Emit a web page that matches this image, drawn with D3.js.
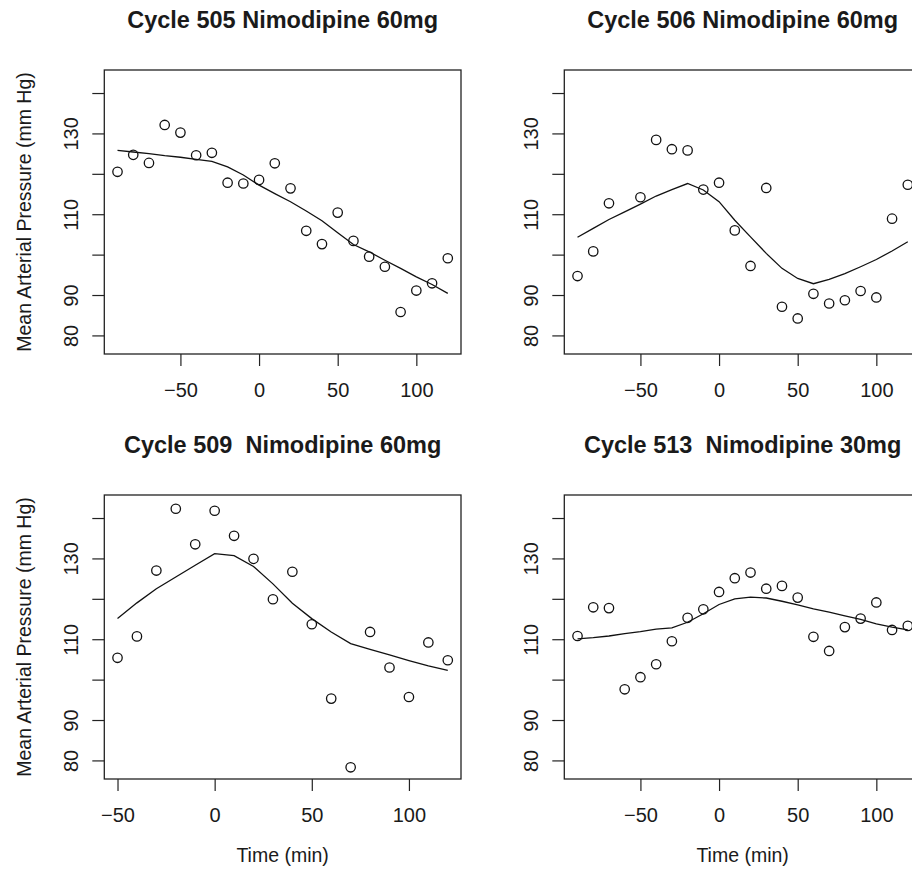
<!DOCTYPE html>
<html>
<head>
<meta charset="utf-8">
<script src="https://cdnjs.cloudflare.com/ajax/libs/d3/7.8.5/d3.min.js"></script>
<style>
  body { margin: 0; background: #fff; }
  text { font-family: "Liberation Sans", Arial, Helvetica, sans-serif; fill: #1a1a1a; }
</style>
</head>
<body>
<div id="chart"></div>
<script>
// overall size of the picture
var width = 912;
var height = 875;

// time points (min)
var timeFull = [-90, -80, -70, -60, -50, -40, -30, -20, -10, 0, 10, 20, 30, 40, 50, 60, 70, 80, 90, 100, 110, 120];
var time506 = [-90, -80, -70, -50, -40, -30, -20, -10, 0, 10, 20, 30, 40, 50, 60, 70, 80, 90, 100, 110, 120];
var time509 = [-50, -40, -30, -20, -10, 0, 10, 20, 30, 40, 50, 60, 70, 80, 90, 100, 110, 120];

// observed mean arterial pressure (circles)
var map505 = [120.5, 124.7, 122.7, 132.1, 130.2, 124.6, 125.2, 117.8, 117.6, 118.5, 122.6, 116.4, 105.9, 102.6, 110.4, 103.4, 99.5, 97.0, 85.8, 91.1, 92.9, 99.1];
var map506 = [94.7, 100.8, 112.7, 114.2, 128.4, 126.1, 125.8, 116.1, 117.8, 106.0, 97.2, 116.5, 87.1, 84.2, 90.3, 87.9, 88.7, 91.0, 89.4, 108.9, 117.3];
var map509 = [105.4, 110.7, 127.0, 142.3, 133.5, 141.8, 135.6, 129.9, 119.9, 126.7, 113.7, 95.3, 78.3, 111.8, 103.0, 95.7, 109.2, 104.8];
var map513 = [110.8, 117.9, 117.7, 97.6, 100.6, 103.8, 109.5, 115.3, 117.4, 121.7, 125.1, 126.5, 122.5, 123.2, 120.3, 110.6, 107.1, 113.0, 115.1, 119.1, 112.3, 113.3];

// fitted curves (lines)
var fit505 = [125.8, 125.4, 125.0, 124.5, 124.1, 123.6, 123.1, 121.7, 119.7, 117.2, 115.1, 113.1, 110.8, 108.4, 105.4, 102.5, 100.7, 98.6, 96.6, 94.5, 92.6, 90.4];
var fit506 = [104.3, 106.5, 108.7, 110.6, 112.5, 114.5, 116.1, 117.6, 116.0, 113.1, 108.5, 104.4, 100.3, 96.6, 94.1, 92.8, 93.9, 95.3, 97.0, 98.8, 100.9, 103.2];
var fit509 = [115.1, 119.0, 122.5, 125.4, 128.3, 131.2, 130.7, 128.0, 123.7, 118.9, 115.1, 111.8, 108.9, 107.5, 106.1, 104.7, 103.4, 102.3];
var fit513 = [110.1, 110.4, 110.8, 111.4, 111.9, 112.5, 112.8, 114.2, 116.3, 118.6, 120.0, 120.4, 120.2, 119.4, 118.5, 117.5, 116.7, 115.8, 114.9, 113.8, 113.0, 112.3];

// panel titles
var titles = ["Cycle 505 Nimodipine 60mg", "Cycle 506 Nimodipine 60mg", "Cycle 509  Nimodipine 60mg", "Cycle 513  Nimodipine 30mg"];

// axis ticks
var xTicks = [-50, 0, 50, 100];
var yTicks = [80, 90, 100, 110, 120, 130, 140];
var yTickLabels = [80, 90, 110, 130];

// panel geometry
var panelLeft = [104.3, 564.3];
var panelTop = [70, 495];
var panelW = 356.7;
var panelH = 284;

var panels = [
    {title: titles[0], t: timeFull, y: map505, ft: timeFull, fy: fit505, xd: [-98.4, 128.4], col: 0, row: 0},
    {title: titles[1], t: time506, y: map506, ft: timeFull, fy: fit506, xd: [-98.4, 128.4], col: 1, row: 0},
    {title: titles[2], t: time509, y: map509, ft: time509, fy: fit509, xd: [-56.8, 126.8], col: 0, row: 1},
    {title: titles[3], t: timeFull, y: map513, ft: timeFull, fy: fit513, xd: [-98.4, 128.4], col: 1, row: 1}
];

var svg = d3.select("#chart").append("svg")
    .attr("width", width)
    .attr("height", height);

panels.forEach(function(p) {
    var left = panelLeft[p.col];
    var top = panelTop[p.row];

    var x = d3.scaleLinear().domain(p.xd).range([0, panelW]);
    var y = d3.scaleLinear().domain([75.4, 145.7]).range([panelH, 0]);

    var g = svg.append("g")
        .attr("transform", "translate(" + left + "," + top + ")");

    // title
    g.append("text")
        .attr("x", panelW / 2)
        .attr("y", 28 - 70)
        .attr("text-anchor", "middle")
        .attr("xml:space", "preserve")
        .style("white-space", "pre")
        .style("font-size", "23.5px")
        .style("font-weight", "bold")
        .text(p.title);

    // x axis
    var xAxis = g.append("g")
        .attr("transform", "translate(0," + panelH + ")")
        .call(d3.axisBottom(x).tickValues(xTicks).tickSize(12).tickSizeOuter(0).tickPadding(17));
    xAxis.select(".domain").remove();
    xAxis.selectAll(".tick line").attr("stroke", "#222").attr("stroke-width", 1.2);
    xAxis.selectAll(".tick text")
        .style("font-size", "20px")
        .attr("fill", "#1a1a1a");

    // y axis, labels turned like base R graphics
    var yAxis = g.append("g")
        .call(d3.axisLeft(y).tickValues(yTicks).tickSize(12).tickSizeOuter(0)
            .tickFormat(function(d) { return yTickLabels.indexOf(d) >= 0 ? d : ""; }));
    yAxis.select(".domain").remove();
    yAxis.selectAll(".tick line").attr("stroke", "#222").attr("stroke-width", 1.2);
    yAxis.selectAll(".tick text")
        .attr("transform", "rotate(-90)")
        .attr("x", 0)
        .attr("y", -26.3)
        .attr("dy", 0)
        .attr("text-anchor", "middle")
        .attr("fill", "#1a1a1a")
        .style("font-size", "20px");

    // box around the plot region
    g.append("rect")
        .attr("width", panelW)
        .attr("height", panelH)
        .attr("fill", "none")
        .attr("stroke", "#222")
        .attr("stroke-width", 1.3);

    // fitted line
    var line = d3.line()
        .x(function(d, i) { return x(p.ft[i]); })
        .y(function(d) { return y(d); });

    g.append("path")
        .datum(p.fy)
        .attr("d", line)
        .attr("fill", "none")
        .attr("stroke", "#111")
        .attr("stroke-width", 1.3);

    // observed points
    g.selectAll(".pt")
        .data(p.y)
        .enter()
        .append("circle")
        .attr("class", "pt")
        .attr("cx", function(d, i) { return x(p.t[i]); })
        .attr("cy", function(d) { return y(d); })
        .attr("r", 4.7)
        .attr("fill", "none")
        .attr("stroke", "#111")
        .attr("stroke-width", 1.3);

    // axis titles only on the outer panels
    if (p.col === 0) {
        g.append("text")
            .attr("transform", "translate(" + (31 - left) + "," + (panelH / 2) + ") rotate(-90)")
            .attr("text-anchor", "middle")
            .style("font-size", "19.5px")
            .text("Mean Arterial Pressure (mm Hg)");
    }
    if (p.row === 1) {
        g.append("text")
            .attr("x", panelW / 2)
            .attr("y", 862 - top)
            .attr("text-anchor", "middle")
            .style("font-size", "19.5px")
            .text("Time (min)");
    }
});
</script>
</body>
</html>
